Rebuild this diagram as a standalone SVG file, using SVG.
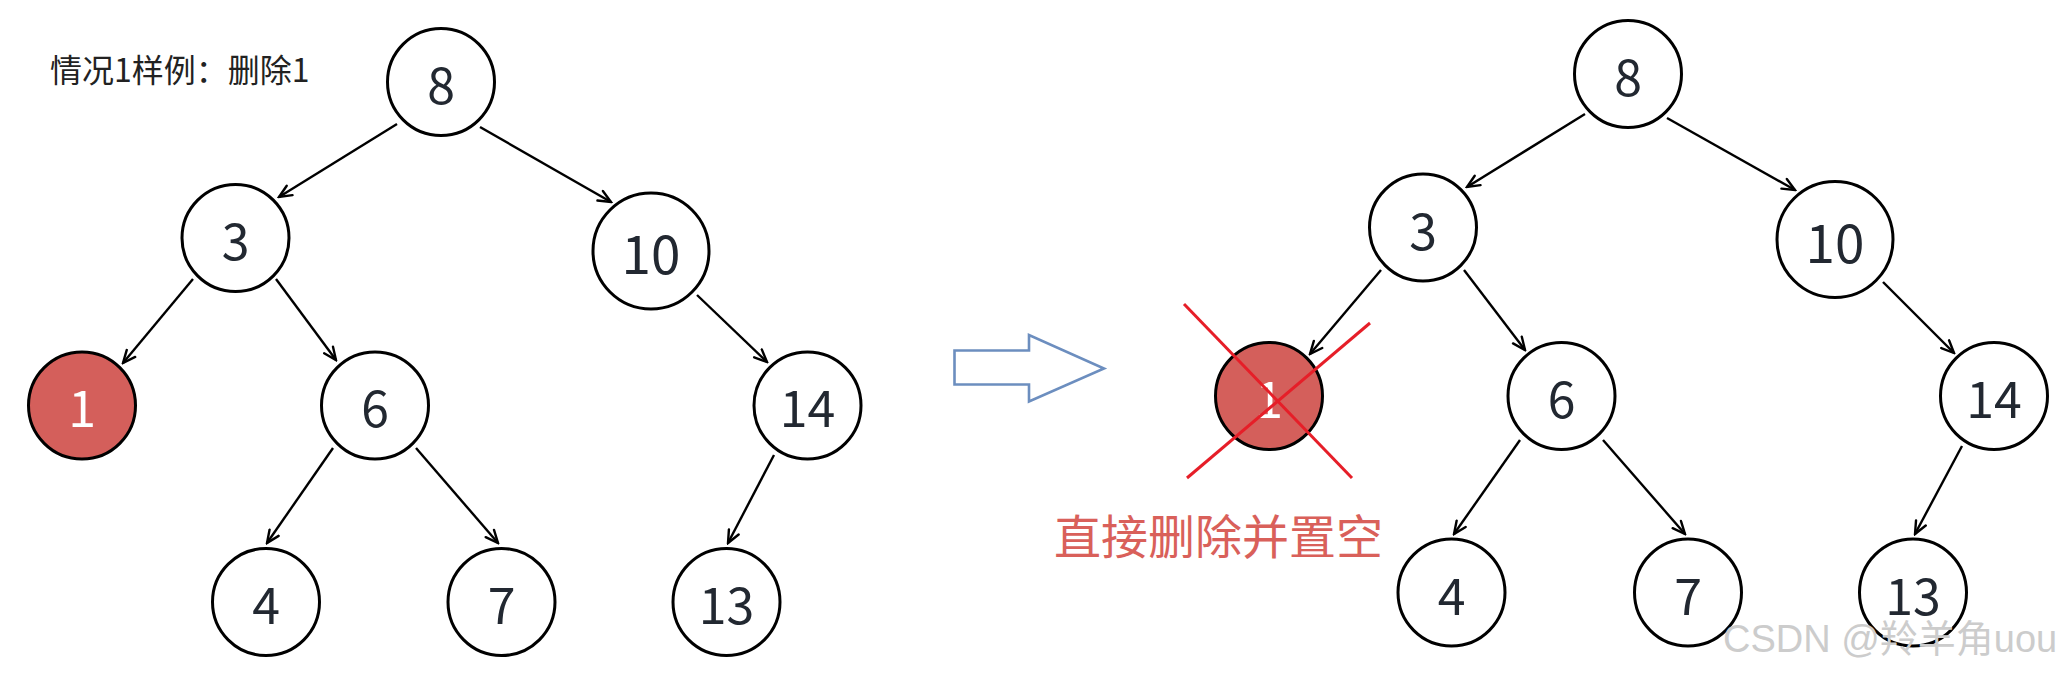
<svg xmlns="http://www.w3.org/2000/svg" width="2063" height="673" viewBox="0 0 2063 673">
<defs>
<marker id="ah" viewBox="0 0 16 14" refX="14" refY="7" markerWidth="16" markerHeight="14" markerUnits="userSpaceOnUse" orient="auto">
<path d="M1.5,1.5 L14,7 L1.5,12.5" fill="none" stroke="#000" stroke-width="2.4" stroke-linecap="round" stroke-linejoin="miter"/>
</marker>
<style>
.n{fill:#fff;stroke:#000;stroke-width:3}
.r{fill:#d45f5b;stroke:#000;stroke-width:3}
.t{font-family:"Noto Sans CJK SC","Noto Sans",sans-serif;font-size:50px;fill:#222831;text-anchor:middle}
.tw{font-family:"Noto Sans CJK SC","Noto Sans",sans-serif;font-size:50px;fill:#fff;text-anchor:middle}
.e line{stroke:#000;stroke-width:2.4;marker-end:url(#ah)}
</style>
</defs>
<rect width="2063" height="673" fill="#fff"/>
<text x="50" y="82" font-family="'Noto Sans CJK SC',sans-serif" font-size="32" fill="#222">情况1样例：删除1</text>
<g id="edges" class="e">
<line x1="397" y1="124" x2="279" y2="197"/>
<line x1="480" y1="127" x2="611" y2="202"/>
<line x1="193" y1="279" x2="123" y2="363"/>
<line x1="276" y1="279" x2="336" y2="360"/>
<line x1="697" y1="295" x2="767" y2="362"/>
<line x1="333" y1="448" x2="267" y2="543"/>
<line x1="416" y1="448" x2="498" y2="543"/>
<line x1="774" y1="455" x2="728" y2="543"/>
<line x1="1585" y1="114" x2="1467" y2="187"/>
<line x1="1667" y1="118" x2="1795" y2="190"/>
<line x1="1381" y1="270" x2="1310" y2="354"/>
<line x1="1464" y1="270" x2="1525" y2="350"/>
<line x1="1883" y1="282" x2="1954" y2="353"/>
<line x1="1520" y1="440" x2="1454" y2="534"/>
<line x1="1603" y1="440" x2="1685" y2="534"/>
<line x1="1962" y1="446" x2="1915" y2="534"/>
</g>
<g id="L8"><circle class="n" cx="441" cy="82" r="53.5"/><text class="t" x="441" y="104">8</text></g>
<g id="L3"><circle class="n" cx="235.5" cy="238" r="53.5"/><text class="t" x="235.5" y="260">3</text></g>
<g id="L10"><circle class="n" cx="651" cy="251" r="58"/><text class="t" x="651" y="274" style="font-size:53px">10</text></g>
<g id="L1"><circle class="r" cx="82" cy="405.5" r="53.5"/><text class="tw" x="82" y="427">1</text></g>
<g id="L6"><circle class="n" cx="375" cy="405.5" r="53.5"/><text class="t" x="375" y="427">6</text></g>
<g id="L14"><circle class="n" cx="807.5" cy="405.5" r="53.5"/><text class="t" x="807.5" y="427">14</text></g>
<g id="L4"><circle class="n" cx="266" cy="602" r="53.5"/><text class="t" x="266" y="624">4</text></g>
<g id="L7"><circle class="n" cx="501.5" cy="602" r="53.5"/><text class="t" x="501.5" y="624">7</text></g>
<g id="L13"><circle class="n" cx="726.5" cy="602" r="53.5"/><text class="t" x="726.5" y="624">13</text></g>
<g id="arrow"><path d="M954.5,350.5 H1029 V335 L1104,368.5 L1029,401.5 V384.5 H954.5 Z" fill="#fff" stroke="#6c8ebf" stroke-width="2.6"/></g>
<g id="R8"><circle class="n" cx="1628" cy="74" r="53.5"/><text class="t" x="1628" y="96">8</text></g>
<g id="R3"><circle class="n" cx="1423" cy="227.5" r="53.5"/><text class="t" x="1423" y="249.5">3</text></g>
<g id="R10"><circle class="n" cx="1835" cy="239.5" r="58"/><text class="t" x="1835" y="262.5" style="font-size:53px">10</text></g>
<g id="R1"><circle class="r" cx="1269" cy="396" r="53.5"/><text class="tw" x="1269" y="417.5">1</text>
<line x1="1184" y1="304" x2="1352" y2="478" stroke="#e61e28" stroke-width="3"/>
<line x1="1187" y1="478" x2="1370" y2="323" stroke="#e61e28" stroke-width="3"/></g>
<g id="R6"><circle class="n" cx="1561.5" cy="396" r="53.5"/><text class="t" x="1561.5" y="418">6</text></g>
<g id="R14"><circle class="n" cx="1994" cy="396" r="53.5"/><text class="t" x="1994" y="418">14</text></g>
<g id="R4"><circle class="n" cx="1451.5" cy="592.5" r="53.5"/><text class="t" x="1451.5" y="614.5">4</text></g>
<g id="R7"><circle class="n" cx="1688" cy="592.5" r="53.5"/><text class="t" x="1688" y="614.5">7</text></g>
<g id="R13"><circle class="n" cx="1913" cy="592.5" r="53.5"/><text class="t" x="1913" y="614.5">13</text></g>
<text x="1054" y="554" font-family="'Noto Sans CJK SC',sans-serif" font-size="47" fill="#d9605a">直接删除并置空</text>
<text x="1723" y="652" font-family="'Liberation Sans','Noto Sans CJK SC',sans-serif" font-size="38" fill="#cccccc">CSDN @羚羊角uou</text>
</svg>
